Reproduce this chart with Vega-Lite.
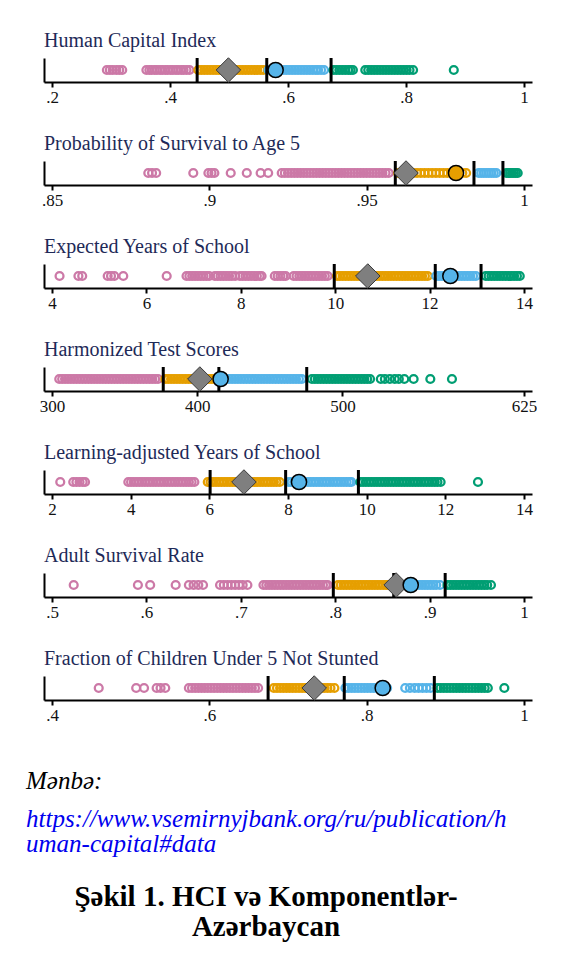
{
"$schema":"https://vega.github.io/schema/vega-lite/v6.json",
"padding":{"left":26,"top":30,"right":0,"bottom":0},
"background":"white",
"datasets":{
"pts":[
{"p":1,"q":1,"v":0.293},{"p":1,"q":1,"v":0.298},{"p":1,"q":1,"v":0.303},{"p":1,"q":1,"v":0.309},{"p":1,"q":1,"v":0.314},{"p":1,"q":1,"v":0.319},{"p":1,"q":1,"v":0.36},{"p":1,"q":1,"v":0.365},{"p":1,"q":1,"v":0.369},{"p":1,"q":1,"v":0.374},{"p":1,"q":1,"v":0.378},{"p":1,"q":1,"v":0.383},{"p":1,"q":1,"v":0.387},{"p":1,"q":1,"v":0.392},{"p":1,"q":1,"v":0.396},{"p":1,"q":1,"v":0.401},{"p":1,"q":1,"v":0.405},{"p":1,"q":1,"v":0.41},{"p":1,"q":1,"v":0.414},{"p":1,"q":1,"v":0.419},{"p":1,"q":1,"v":0.423},{"p":1,"q":1,"v":0.428},{"p":1,"q":1,"v":0.433},
{"p":1,"q":2,"v":0.448},{"p":1,"q":2,"v":0.453},{"p":1,"q":2,"v":0.458},{"p":1,"q":2,"v":0.463},{"p":1,"q":2,"v":0.468},{"p":1,"q":2,"v":0.473},{"p":1,"q":2,"v":0.478},{"p":1,"q":2,"v":0.483},{"p":1,"q":2,"v":0.488},{"p":1,"q":2,"v":0.493},{"p":1,"q":2,"v":0.498},{"p":1,"q":2,"v":0.503},{"p":1,"q":2,"v":0.508},{"p":1,"q":2,"v":0.513},{"p":1,"q":2,"v":0.518},{"p":1,"q":2,"v":0.523},{"p":1,"q":2,"v":0.528},{"p":1,"q":2,"v":0.533},{"p":1,"q":2,"v":0.538},{"p":1,"q":2,"v":0.543},{"p":1,"q":2,"v":0.548},{"p":1,"q":2,"v":0.553},{"p":1,"q":2,"v":0.558},
{"p":1,"q":3,"v":0.567},{"p":1,"q":3,"v":0.572},{"p":1,"q":3,"v":0.577},{"p":1,"q":3,"v":0.582},{"p":1,"q":3,"v":0.587},{"p":1,"q":3,"v":0.592},{"p":1,"q":3,"v":0.597},{"p":1,"q":3,"v":0.602},{"p":1,"q":3,"v":0.607},{"p":1,"q":3,"v":0.612},{"p":1,"q":3,"v":0.617},{"p":1,"q":3,"v":0.622},{"p":1,"q":3,"v":0.627},{"p":1,"q":3,"v":0.632},{"p":1,"q":3,"v":0.637},{"p":1,"q":3,"v":0.642},{"p":1,"q":3,"v":0.647},{"p":1,"q":3,"v":0.651},{"p":1,"q":3,"v":0.656},{"p":1,"q":3,"v":0.661},
{"p":1,"q":4,"v":0.677},{"p":1,"q":4,"v":0.682},{"p":1,"q":4,"v":0.687},{"p":1,"q":4,"v":0.692},{"p":1,"q":4,"v":0.697},{"p":1,"q":4,"v":0.702},{"p":1,"q":4,"v":0.706},{"p":1,"q":4,"v":0.71},{"p":1,"q":4,"v":0.731},{"p":1,"q":4,"v":0.736},{"p":1,"q":4,"v":0.741},{"p":1,"q":4,"v":0.746},{"p":1,"q":4,"v":0.751},{"p":1,"q":4,"v":0.756},{"p":1,"q":4,"v":0.761},{"p":1,"q":4,"v":0.766},{"p":1,"q":4,"v":0.771},{"p":1,"q":4,"v":0.776},{"p":1,"q":4,"v":0.781},{"p":1,"q":4,"v":0.786},{"p":1,"q":4,"v":0.791},{"p":1,"q":4,"v":0.796},{"p":1,"q":4,"v":0.801},{"p":1,"q":4,"v":0.806},{"p":1,"q":4,"v":0.812},{"p":1,"q":4,"v":0.881},

{"p":2,"q":1,"v":0.8806},{"p":2,"q":1,"v":0.8818},{"p":2,"q":1,"v":0.8831},{"p":2,"q":1,"v":0.8949},{"p":2,"q":1,"v":0.8997},{"p":2,"q":1,"v":0.9007},{"p":2,"q":1,"v":0.9016},{"p":2,"q":1,"v":0.9068},{"p":2,"q":1,"v":0.9119},{"p":2,"q":1,"v":0.9163},{"p":2,"q":1,"v":0.9187},{"p":2,"q":1,"v":0.923},{"p":2,"q":1,"v":0.924},{"p":2,"q":1,"v":0.925},{"p":2,"q":1,"v":0.926},{"p":2,"q":1,"v":0.927},{"p":2,"q":1,"v":0.928},{"p":2,"q":1,"v":0.929},{"p":2,"q":1,"v":0.93},{"p":2,"q":1,"v":0.931},{"p":2,"q":1,"v":0.932},{"p":2,"q":1,"v":0.933},{"p":2,"q":1,"v":0.934},{"p":2,"q":1,"v":0.935},{"p":2,"q":1,"v":0.936},{"p":2,"q":1,"v":0.937},{"p":2,"q":1,"v":0.938},{"p":2,"q":1,"v":0.939},{"p":2,"q":1,"v":0.94},{"p":2,"q":1,"v":0.941},{"p":2,"q":1,"v":0.942},{"p":2,"q":1,"v":0.943},{"p":2,"q":1,"v":0.944},{"p":2,"q":1,"v":0.945},{"p":2,"q":1,"v":0.946},{"p":2,"q":1,"v":0.947},{"p":2,"q":1,"v":0.948},{"p":2,"q":1,"v":0.949},{"p":2,"q":1,"v":0.95},{"p":2,"q":1,"v":0.951},{"p":2,"q":1,"v":0.952},{"p":2,"q":1,"v":0.953},{"p":2,"q":1,"v":0.954},{"p":2,"q":1,"v":0.955},{"p":2,"q":1,"v":0.956},{"p":2,"q":1,"v":0.957},
{"p":2,"q":2,"v":0.96},{"p":2,"q":2,"v":0.9612},{"p":2,"q":2,"v":0.9624},{"p":2,"q":2,"v":0.9636},{"p":2,"q":2,"v":0.9648},{"p":2,"q":2,"v":0.966},{"p":2,"q":2,"v":0.9672},{"p":2,"q":2,"v":0.9684},{"p":2,"q":2,"v":0.9696},{"p":2,"q":2,"v":0.9708},{"p":2,"q":2,"v":0.972},{"p":2,"q":2,"v":0.9732},{"p":2,"q":2,"v":0.9744},{"p":2,"q":2,"v":0.9756},{"p":2,"q":2,"v":0.9768},{"p":2,"q":2,"v":0.978},{"p":2,"q":2,"v":0.9792},{"p":2,"q":2,"v":0.9804},{"p":2,"q":2,"v":0.9816},
{"p":2,"q":3,"v":0.9856},{"p":2,"q":3,"v":0.9864},{"p":2,"q":3,"v":0.9872},{"p":2,"q":3,"v":0.988},{"p":2,"q":3,"v":0.9888},{"p":2,"q":3,"v":0.9896},{"p":2,"q":3,"v":0.9904},{"p":2,"q":3,"v":0.9912},
{"p":2,"q":4,"v":0.9944},{"p":2,"q":4,"v":0.995},{"p":2,"q":4,"v":0.9956},{"p":2,"q":4,"v":0.9962},{"p":2,"q":4,"v":0.9968},{"p":2,"q":4,"v":0.9974},{"p":2,"q":4,"v":0.998},

{"p":3,"q":1,"v":4.16},{"p":3,"q":1,"v":4.56},{"p":3,"q":1,"v":4.64},{"p":3,"q":1,"v":5.18},{"p":3,"q":1,"v":5.25},{"p":3,"q":1,"v":5.32},{"p":3,"q":1,"v":5.51},{"p":3,"q":1,"v":6.43},{"p":3,"q":1,"v":6.85},{"p":3,"q":1,"v":6.91},{"p":3,"q":1,"v":6.97},{"p":3,"q":1,"v":7.03},{"p":3,"q":1,"v":7.09},{"p":3,"q":1,"v":7.15},{"p":3,"q":1,"v":7.21},{"p":3,"q":1,"v":7.27},{"p":3,"q":1,"v":7.33},{"p":3,"q":1,"v":7.45},{"p":3,"q":1,"v":7.51},{"p":3,"q":1,"v":7.57},{"p":3,"q":1,"v":7.63},{"p":3,"q":1,"v":7.69},{"p":3,"q":1,"v":7.75},{"p":3,"q":1,"v":7.81},{"p":3,"q":1,"v":7.88},{"p":3,"q":1,"v":7.98},{"p":3,"q":1,"v":8.04},{"p":3,"q":1,"v":8.1},{"p":3,"q":1,"v":8.16},{"p":3,"q":1,"v":8.22},{"p":3,"q":1,"v":8.28},{"p":3,"q":1,"v":8.34},{"p":3,"q":1,"v":8.4},{"p":3,"q":1,"v":8.44},{"p":3,"q":1,"v":8.72},{"p":3,"q":1,"v":8.78},{"p":3,"q":1,"v":8.84},{"p":3,"q":1,"v":8.9},{"p":3,"q":1,"v":8.95},{"p":3,"q":1,"v":9.12},{"p":3,"q":1,"v":9.18},{"p":3,"q":1,"v":9.24},{"p":3,"q":1,"v":9.3},{"p":3,"q":1,"v":9.36},{"p":3,"q":1,"v":9.42},{"p":3,"q":1,"v":9.48},{"p":3,"q":1,"v":9.54},{"p":3,"q":1,"v":9.6},{"p":3,"q":1,"v":9.66},{"p":3,"q":1,"v":9.72},{"p":3,"q":1,"v":9.78},{"p":3,"q":1,"v":9.84},
{"p":3,"q":2,"v":10.04},{"p":3,"q":2,"v":10.1},{"p":3,"q":2,"v":10.16},{"p":3,"q":2,"v":10.22},{"p":3,"q":2,"v":10.28},{"p":3,"q":2,"v":10.34},{"p":3,"q":2,"v":10.4},{"p":3,"q":2,"v":10.46},{"p":3,"q":2,"v":10.52},{"p":3,"q":2,"v":10.58},{"p":3,"q":2,"v":10.64},{"p":3,"q":2,"v":10.7},{"p":3,"q":2,"v":10.76},{"p":3,"q":2,"v":10.82},{"p":3,"q":2,"v":10.88},{"p":3,"q":2,"v":10.94},{"p":3,"q":2,"v":11.0},{"p":3,"q":2,"v":11.06},{"p":3,"q":2,"v":11.12},{"p":3,"q":2,"v":11.18},{"p":3,"q":2,"v":11.24},{"p":3,"q":2,"v":11.3},{"p":3,"q":2,"v":11.36},{"p":3,"q":2,"v":11.42},{"p":3,"q":2,"v":11.48},{"p":3,"q":2,"v":11.54},{"p":3,"q":2,"v":11.6},{"p":3,"q":2,"v":11.66},{"p":3,"q":2,"v":11.72},{"p":3,"q":2,"v":11.78},{"p":3,"q":2,"v":11.84},{"p":3,"q":2,"v":11.9},{"p":3,"q":2,"v":11.96},
{"p":3,"q":3,"v":12.14},{"p":3,"q":3,"v":12.2},{"p":3,"q":3,"v":12.26},{"p":3,"q":3,"v":12.32},{"p":3,"q":3,"v":12.38},{"p":3,"q":3,"v":12.44},{"p":3,"q":3,"v":12.5},{"p":3,"q":3,"v":12.56},{"p":3,"q":3,"v":12.62},{"p":3,"q":3,"v":12.68},{"p":3,"q":3,"v":12.74},{"p":3,"q":3,"v":12.8},{"p":3,"q":3,"v":12.86},{"p":3,"q":3,"v":12.92},{"p":3,"q":3,"v":12.98},
{"p":3,"q":4,"v":13.19},{"p":3,"q":4,"v":13.25},{"p":3,"q":4,"v":13.31},{"p":3,"q":4,"v":13.37},{"p":3,"q":4,"v":13.43},{"p":3,"q":4,"v":13.49},{"p":3,"q":4,"v":13.55},{"p":3,"q":4,"v":13.61},{"p":3,"q":4,"v":13.67},{"p":3,"q":4,"v":13.73},{"p":3,"q":4,"v":13.79},{"p":3,"q":4,"v":13.85},{"p":3,"q":4,"v":13.91},

{"p":4,"q":1,"v":305},{"p":4,"q":1,"v":307},{"p":4,"q":1,"v":309},{"p":4,"q":1,"v":311},{"p":4,"q":1,"v":313},{"p":4,"q":1,"v":315},{"p":4,"q":1,"v":317},{"p":4,"q":1,"v":319},{"p":4,"q":1,"v":321},{"p":4,"q":1,"v":323},{"p":4,"q":1,"v":325},{"p":4,"q":1,"v":327},{"p":4,"q":1,"v":329},{"p":4,"q":1,"v":331},{"p":4,"q":1,"v":333},{"p":4,"q":1,"v":335},{"p":4,"q":1,"v":337},{"p":4,"q":1,"v":339},{"p":4,"q":1,"v":341},{"p":4,"q":1,"v":343},{"p":4,"q":1,"v":345},{"p":4,"q":1,"v":347},{"p":4,"q":1,"v":349},{"p":4,"q":1,"v":351},{"p":4,"q":1,"v":353},{"p":4,"q":1,"v":355},{"p":4,"q":1,"v":357},{"p":4,"q":1,"v":359},{"p":4,"q":1,"v":361},{"p":4,"q":1,"v":363},{"p":4,"q":1,"v":365},{"p":4,"q":1,"v":367},{"p":4,"q":1,"v":369},{"p":4,"q":1,"v":371},{"p":4,"q":1,"v":373},
{"p":4,"q":2,"v":378},{"p":4,"q":2,"v":380},{"p":4,"q":2,"v":382},{"p":4,"q":2,"v":384},{"p":4,"q":2,"v":386},{"p":4,"q":2,"v":388},{"p":4,"q":2,"v":390},{"p":4,"q":2,"v":392},{"p":4,"q":2,"v":394},{"p":4,"q":2,"v":396},{"p":4,"q":2,"v":398},{"p":4,"q":2,"v":400},{"p":4,"q":2,"v":402},{"p":4,"q":2,"v":404},{"p":4,"q":2,"v":406},{"p":4,"q":2,"v":408},{"p":4,"q":2,"v":410},{"p":4,"q":2,"v":412},
{"p":4,"q":3,"v":420},{"p":4,"q":3,"v":422},{"p":4,"q":3,"v":424},{"p":4,"q":3,"v":426},{"p":4,"q":3,"v":428},{"p":4,"q":3,"v":430},{"p":4,"q":3,"v":432},{"p":4,"q":3,"v":434},{"p":4,"q":3,"v":436},{"p":4,"q":3,"v":438},{"p":4,"q":3,"v":440},{"p":4,"q":3,"v":442},{"p":4,"q":3,"v":444},{"p":4,"q":3,"v":446},{"p":4,"q":3,"v":448},{"p":4,"q":3,"v":450},{"p":4,"q":3,"v":452},{"p":4,"q":3,"v":454},{"p":4,"q":3,"v":456},{"p":4,"q":3,"v":458},{"p":4,"q":3,"v":460},{"p":4,"q":3,"v":462},{"p":4,"q":3,"v":464},{"p":4,"q":3,"v":466},{"p":4,"q":3,"v":468},{"p":4,"q":3,"v":470},{"p":4,"q":3,"v":472},
{"p":4,"q":4,"v":479},{"p":4,"q":4,"v":481},{"p":4,"q":4,"v":483},{"p":4,"q":4,"v":485},{"p":4,"q":4,"v":487},{"p":4,"q":4,"v":489},{"p":4,"q":4,"v":491},{"p":4,"q":4,"v":493},{"p":4,"q":4,"v":495},{"p":4,"q":4,"v":497},{"p":4,"q":4,"v":499},{"p":4,"q":4,"v":501},{"p":4,"q":4,"v":503},{"p":4,"q":4,"v":505},{"p":4,"q":4,"v":507},{"p":4,"q":4,"v":509},{"p":4,"q":4,"v":511},{"p":4,"q":4,"v":513},{"p":4,"q":4,"v":515},{"p":4,"q":4,"v":517},{"p":4,"q":4,"v":519},{"p":4,"q":4,"v":526.4},{"p":4,"q":4,"v":529.2},{"p":4,"q":4,"v":532.6},{"p":4,"q":4,"v":536},{"p":4,"q":4,"v":538.8},{"p":4,"q":4,"v":542.6},{"p":4,"q":4,"v":549},{"p":4,"q":4,"v":560.5},{"p":4,"q":4,"v":575.4},

{"p":5,"q":1,"v":2.21},{"p":5,"q":1,"v":2.54},{"p":5,"q":1,"v":2.62},{"p":5,"q":1,"v":2.7},{"p":5,"q":1,"v":2.78},{"p":5,"q":1,"v":2.84},{"p":5,"q":1,"v":3.94},{"p":5,"q":1,"v":4.01},{"p":5,"q":1,"v":4.08},{"p":5,"q":1,"v":4.15},{"p":5,"q":1,"v":4.22},{"p":5,"q":1,"v":4.29},{"p":5,"q":1,"v":4.36},{"p":5,"q":1,"v":4.43},{"p":5,"q":1,"v":4.5},{"p":5,"q":1,"v":4.57},{"p":5,"q":1,"v":4.64},{"p":5,"q":1,"v":4.71},{"p":5,"q":1,"v":4.78},{"p":5,"q":1,"v":4.85},{"p":5,"q":1,"v":4.92},{"p":5,"q":1,"v":4.99},{"p":5,"q":1,"v":5.06},{"p":5,"q":1,"v":5.13},{"p":5,"q":1,"v":5.2},{"p":5,"q":1,"v":5.27},{"p":5,"q":1,"v":5.34},{"p":5,"q":1,"v":5.41},{"p":5,"q":1,"v":5.48},{"p":5,"q":1,"v":5.55},{"p":5,"q":1,"v":5.62},
{"p":5,"q":2,"v":5.96},{"p":5,"q":2,"v":6.03},{"p":5,"q":2,"v":6.1},{"p":5,"q":2,"v":6.17},{"p":5,"q":2,"v":6.24},{"p":5,"q":2,"v":6.31},{"p":5,"q":2,"v":6.38},{"p":5,"q":2,"v":6.45},{"p":5,"q":2,"v":6.52},{"p":5,"q":2,"v":6.59},{"p":5,"q":2,"v":6.66},{"p":5,"q":2,"v":6.73},{"p":5,"q":2,"v":6.8},{"p":5,"q":2,"v":6.87},{"p":5,"q":2,"v":6.94},{"p":5,"q":2,"v":7.01},{"p":5,"q":2,"v":7.08},{"p":5,"q":2,"v":7.15},{"p":5,"q":2,"v":7.22},{"p":5,"q":2,"v":7.29},{"p":5,"q":2,"v":7.36},{"p":5,"q":2,"v":7.43},{"p":5,"q":2,"v":7.5},{"p":5,"q":2,"v":7.57},{"p":5,"q":2,"v":7.64},{"p":5,"q":2,"v":7.71},{"p":5,"q":2,"v":7.79},
{"p":5,"q":3,"v":8.02},{"p":5,"q":3,"v":8.09},{"p":5,"q":3,"v":8.16},{"p":5,"q":3,"v":8.23},{"p":5,"q":3,"v":8.3},{"p":5,"q":3,"v":8.37},{"p":5,"q":3,"v":8.44},{"p":5,"q":3,"v":8.51},{"p":5,"q":3,"v":8.58},{"p":5,"q":3,"v":8.65},{"p":5,"q":3,"v":8.72},{"p":5,"q":3,"v":8.79},{"p":5,"q":3,"v":8.86},{"p":5,"q":3,"v":8.93},{"p":5,"q":3,"v":9.0},{"p":5,"q":3,"v":9.07},{"p":5,"q":3,"v":9.14},{"p":5,"q":3,"v":9.21},{"p":5,"q":3,"v":9.28},{"p":5,"q":3,"v":9.35},{"p":5,"q":3,"v":9.42},{"p":5,"q":3,"v":9.49},{"p":5,"q":3,"v":9.56},{"p":5,"q":3,"v":9.61},
{"p":5,"q":4,"v":9.84},{"p":5,"q":4,"v":9.91},{"p":5,"q":4,"v":9.98},{"p":5,"q":4,"v":10.05},{"p":5,"q":4,"v":10.12},{"p":5,"q":4,"v":10.19},{"p":5,"q":4,"v":10.26},{"p":5,"q":4,"v":10.33},{"p":5,"q":4,"v":10.4},{"p":5,"q":4,"v":10.47},{"p":5,"q":4,"v":10.54},{"p":5,"q":4,"v":10.61},{"p":5,"q":4,"v":10.68},{"p":5,"q":4,"v":10.75},{"p":5,"q":4,"v":10.82},{"p":5,"q":4,"v":10.89},{"p":5,"q":4,"v":10.96},{"p":5,"q":4,"v":11.03},{"p":5,"q":4,"v":11.1},{"p":5,"q":4,"v":11.17},{"p":5,"q":4,"v":11.24},{"p":5,"q":4,"v":11.31},{"p":5,"q":4,"v":11.38},{"p":5,"q":4,"v":11.45},{"p":5,"q":4,"v":11.52},{"p":5,"q":4,"v":11.59},{"p":5,"q":4,"v":11.66},{"p":5,"q":4,"v":11.73},{"p":5,"q":4,"v":11.8},{"p":5,"q":4,"v":11.88},{"p":5,"q":4,"v":12.83},

{"p":6,"q":1,"v":0.523},{"p":6,"q":1,"v":0.591},{"p":6,"q":1,"v":0.604},{"p":6,"q":1,"v":0.631},{"p":6,"q":1,"v":0.645},{"p":6,"q":1,"v":0.65},{"p":6,"q":1,"v":0.655},{"p":6,"q":1,"v":0.66},{"p":6,"q":1,"v":0.678},{"p":6,"q":1,"v":0.682},{"p":6,"q":1,"v":0.686},{"p":6,"q":1,"v":0.69},{"p":6,"q":1,"v":0.694},{"p":6,"q":1,"v":0.698},{"p":6,"q":1,"v":0.702},{"p":6,"q":1,"v":0.707},{"p":6,"q":1,"v":0.724},{"p":6,"q":1,"v":0.727},{"p":6,"q":1,"v":0.73},{"p":6,"q":1,"v":0.733},{"p":6,"q":1,"v":0.736},{"p":6,"q":1,"v":0.739},{"p":6,"q":1,"v":0.742},{"p":6,"q":1,"v":0.745},{"p":6,"q":1,"v":0.748},{"p":6,"q":1,"v":0.751},{"p":6,"q":1,"v":0.754},{"p":6,"q":1,"v":0.757},{"p":6,"q":1,"v":0.76},{"p":6,"q":1,"v":0.763},{"p":6,"q":1,"v":0.766},{"p":6,"q":1,"v":0.769},{"p":6,"q":1,"v":0.772},{"p":6,"q":1,"v":0.775},{"p":6,"q":1,"v":0.778},{"p":6,"q":1,"v":0.781},{"p":6,"q":1,"v":0.784},{"p":6,"q":1,"v":0.787},{"p":6,"q":1,"v":0.79},{"p":6,"q":1,"v":0.792},
{"p":6,"q":2,"v":0.803},{"p":6,"q":2,"v":0.806},{"p":6,"q":2,"v":0.809},{"p":6,"q":2,"v":0.812},{"p":6,"q":2,"v":0.815},{"p":6,"q":2,"v":0.818},{"p":6,"q":2,"v":0.821},{"p":6,"q":2,"v":0.824},{"p":6,"q":2,"v":0.827},{"p":6,"q":2,"v":0.83},{"p":6,"q":2,"v":0.833},{"p":6,"q":2,"v":0.836},{"p":6,"q":2,"v":0.839},{"p":6,"q":2,"v":0.842},{"p":6,"q":2,"v":0.845},{"p":6,"q":2,"v":0.848},{"p":6,"q":2,"v":0.851},{"p":6,"q":2,"v":0.854},{"p":6,"q":2,"v":0.857},
{"p":6,"q":3,"v":0.862},{"p":6,"q":3,"v":0.865},{"p":6,"q":3,"v":0.868},{"p":6,"q":3,"v":0.871},{"p":6,"q":3,"v":0.874},{"p":6,"q":3,"v":0.877},{"p":6,"q":3,"v":0.88},{"p":6,"q":3,"v":0.883},{"p":6,"q":3,"v":0.886},{"p":6,"q":3,"v":0.889},{"p":6,"q":3,"v":0.892},{"p":6,"q":3,"v":0.895},{"p":6,"q":3,"v":0.898},{"p":6,"q":3,"v":0.901},{"p":6,"q":3,"v":0.904},{"p":6,"q":3,"v":0.907},{"p":6,"q":3,"v":0.911},
{"p":6,"q":4,"v":0.919},{"p":6,"q":4,"v":0.922},{"p":6,"q":4,"v":0.925},{"p":6,"q":4,"v":0.928},{"p":6,"q":4,"v":0.931},{"p":6,"q":4,"v":0.934},{"p":6,"q":4,"v":0.937},{"p":6,"q":4,"v":0.94},{"p":6,"q":4,"v":0.943},{"p":6,"q":4,"v":0.946},{"p":6,"q":4,"v":0.949},{"p":6,"q":4,"v":0.952},{"p":6,"q":4,"v":0.955},{"p":6,"q":4,"v":0.958},{"p":6,"q":4,"v":0.961},{"p":6,"q":4,"v":0.965},

{"p":7,"q":1,"v":0.4594},{"p":7,"q":1,"v":0.507},{"p":7,"q":1,"v":0.517},{"p":7,"q":1,"v":0.533},{"p":7,"q":1,"v":0.538},{"p":7,"q":1,"v":0.544},{"p":7,"q":1,"v":0.574},{"p":7,"q":1,"v":0.578},{"p":7,"q":1,"v":0.582},{"p":7,"q":1,"v":0.586},{"p":7,"q":1,"v":0.59},{"p":7,"q":1,"v":0.594},{"p":7,"q":1,"v":0.598},{"p":7,"q":1,"v":0.602},{"p":7,"q":1,"v":0.606},{"p":7,"q":1,"v":0.61},{"p":7,"q":1,"v":0.614},{"p":7,"q":1,"v":0.618},{"p":7,"q":1,"v":0.622},{"p":7,"q":1,"v":0.626},{"p":7,"q":1,"v":0.63},{"p":7,"q":1,"v":0.634},{"p":7,"q":1,"v":0.638},{"p":7,"q":1,"v":0.642},{"p":7,"q":1,"v":0.646},{"p":7,"q":1,"v":0.65},{"p":7,"q":1,"v":0.654},{"p":7,"q":1,"v":0.658},{"p":7,"q":1,"v":0.662},
{"p":7,"q":2,"v":0.682},{"p":7,"q":2,"v":0.686},{"p":7,"q":2,"v":0.69},{"p":7,"q":2,"v":0.694},{"p":7,"q":2,"v":0.698},{"p":7,"q":2,"v":0.702},{"p":7,"q":2,"v":0.706},{"p":7,"q":2,"v":0.71},{"p":7,"q":2,"v":0.714},{"p":7,"q":2,"v":0.718},{"p":7,"q":2,"v":0.722},{"p":7,"q":2,"v":0.726},{"p":7,"q":2,"v":0.73},{"p":7,"q":2,"v":0.734},{"p":7,"q":2,"v":0.738},{"p":7,"q":2,"v":0.742},{"p":7,"q":2,"v":0.746},{"p":7,"q":2,"v":0.75},{"p":7,"q":2,"v":0.754},{"p":7,"q":2,"v":0.759},
{"p":7,"q":3,"v":0.773},{"p":7,"q":3,"v":0.777},{"p":7,"q":3,"v":0.781},{"p":7,"q":3,"v":0.785},{"p":7,"q":3,"v":0.789},{"p":7,"q":3,"v":0.793},{"p":7,"q":3,"v":0.797},{"p":7,"q":3,"v":0.801},{"p":7,"q":3,"v":0.805},{"p":7,"q":3,"v":0.809},{"p":7,"q":3,"v":0.813},{"p":7,"q":3,"v":0.817},{"p":7,"q":3,"v":0.821},{"p":7,"q":3,"v":0.826},{"p":7,"q":3,"v":0.849},{"p":7,"q":3,"v":0.855},{"p":7,"q":3,"v":0.861},{"p":7,"q":3,"v":0.866},{"p":7,"q":3,"v":0.871},{"p":7,"q":3,"v":0.876},{"p":7,"q":3,"v":0.881},
{"p":7,"q":4,"v":0.89},{"p":7,"q":4,"v":0.894},{"p":7,"q":4,"v":0.898},{"p":7,"q":4,"v":0.902},{"p":7,"q":4,"v":0.906},{"p":7,"q":4,"v":0.91},{"p":7,"q":4,"v":0.914},{"p":7,"q":4,"v":0.918},{"p":7,"q":4,"v":0.922},{"p":7,"q":4,"v":0.926},{"p":7,"q":4,"v":0.93},{"p":7,"q":4,"v":0.934},{"p":7,"q":4,"v":0.938},{"p":7,"q":4,"v":0.942},{"p":7,"q":4,"v":0.946},{"p":7,"q":4,"v":0.95},{"p":7,"q":4,"v":0.954},{"p":7,"q":4,"v":0.975}
],
"thr":[
{"p":1,"v":0.446},{"p":1,"v":0.564},{"p":1,"v":0.673},
{"p":2,"v":0.9591},{"p":2,"v":0.9841},{"p":2,"v":0.9933},
{"p":3,"v":9.98},{"p":3,"v":12.12},{"p":3,"v":13.09},
{"p":4,"v":376.6},{"p":4,"v":414.9},{"p":4,"v":475.4},
{"p":5,"v":6.02},{"p":5,"v":7.94},{"p":5,"v":9.79},
{"p":6,"v":0.798},{"p":6,"v":0.862},{"p":6,"v":0.9165},
{"p":7,"v":0.6747},{"p":7,"v":0.7715},{"p":7,"v":0.886}
],
"reg":[
{"p":1,"v":0.499},{"p":2,"v":0.9625},{"p":3,"v":10.69},{"p":4,"v":401.8},{"p":5,"v":6.88},{"p":6,"v":0.8645},{"p":7,"v":0.7333}
],
"az":[
{"p":1,"q":3,"v":0.579},{"p":2,"q":2,"v":0.9784},{"p":3,"q":3,"v":12.44},{"p":4,"q":3,"v":416.1},{"p":5,"q":3,"v":8.28},{"p":6,"q":3,"v":0.88},{"p":7,"q":3,"v":0.8204}
],
"cap":[
{"line":1,"text":"Şəkil 1. HCI və Komponentlər-"},{"line":2,"text":"Azərbaycan"}
]
},
"vconcat":[
{"spacing":28,"vconcat":[
{"title":"Human Capital Index","width":488,"height":24,
 "encoding":{"x":{"field":"v","type":"quantitative","scale":{"domain":[0.2,1],"padding":8,"nice":false,"zero":false},"axis":{"values":[0.2,0.4,0.6,0.8,1],"labelExpr":"replace(format(datum.value,'~g'),'0.','.')"}}},
 "layer":[
  {"data":{"name":"pts"},"transform":[{"filter":"datum.p==1"}],"mark":{"type":"point","shape":"circle","filled":false,"size":62,"strokeWidth":2.3,"opacity":1},"encoding":{"y":{"datum":0,"type":"quantitative","scale":{"domain":[-1,1]},"axis":{"labels":false,"ticks":false,"title":null,"grid":false,"domain":true,"domainColor":"black","domainWidth":2}},"color":{"field":"q","type":"nominal","scale":{"domain":[1,2,3,4],"range":["#CC79A7","#E69F00","#56B4E9","#009E73"]},"legend":null}}},
  {"data":{"name":"thr"},"transform":[{"filter":"datum.p==1"}],"mark":{"type":"rule","strokeWidth":3,"color":"black"},"encoding":{}},
  {"data":{"name":"reg"},"transform":[{"filter":"datum.p==1"}],"mark":{"type":"point","shape":"diamond","filled":true,"size":600,"fill":"#7f7f7f","stroke":"#3a3a3a","strokeWidth":1,"opacity":1}},
  {"data":{"name":"az"},"transform":[{"filter":"datum.p==1"}],"mark":{"type":"circle","size":230,"stroke":"black","strokeWidth":1.5,"opacity":1},"encoding":{"color":{"field":"q","type":"nominal","legend":null}}}
 ]},
{"title":"Probability of Survival to Age 5","width":488,"height":24,
 "encoding":{"x":{"field":"v","type":"quantitative","scale":{"domain":[0.85,1],"padding":8,"nice":false,"zero":false},"axis":{"values":[0.85,0.9,0.95,1],"labelExpr":"replace(format(datum.value,'~g'),'0.','.')"}}},
 "layer":[
  {"data":{"name":"pts"},"transform":[{"filter":"datum.p==2"}],"mark":{"type":"point","shape":"circle","filled":false,"size":62,"strokeWidth":2.3,"opacity":1},"encoding":{"y":{"datum":0,"type":"quantitative","scale":{"domain":[-1,1]},"axis":{"labels":false,"ticks":false,"title":null,"grid":false,"domain":true,"domainColor":"black","domainWidth":2}},"color":{"field":"q","type":"nominal","legend":null}}},
  {"data":{"name":"thr"},"transform":[{"filter":"datum.p==2"}],"mark":{"type":"rule","strokeWidth":3,"color":"black"},"encoding":{}},
  {"data":{"name":"reg"},"transform":[{"filter":"datum.p==2"}],"mark":{"type":"point","shape":"diamond","filled":true,"size":600,"fill":"#7f7f7f","stroke":"#3a3a3a","strokeWidth":1,"opacity":1}},
  {"data":{"name":"az"},"transform":[{"filter":"datum.p==2"}],"mark":{"type":"circle","size":230,"stroke":"black","strokeWidth":1.5,"opacity":1},"encoding":{"color":{"field":"q","type":"nominal","legend":null}}}
 ]},
{"title":"Expected Years of School","width":488,"height":24,
 "encoding":{"x":{"field":"v","type":"quantitative","scale":{"domain":[4,14],"padding":8,"nice":false,"zero":false},"axis":{"values":[4,6,8,10,12,14],"labelExpr":"replace(format(datum.value,'~g'),'0.','.')"}}},
 "layer":[
  {"data":{"name":"pts"},"transform":[{"filter":"datum.p==3"}],"mark":{"type":"point","shape":"circle","filled":false,"size":62,"strokeWidth":2.3,"opacity":1},"encoding":{"y":{"datum":0,"type":"quantitative","scale":{"domain":[-1,1]},"axis":{"labels":false,"ticks":false,"title":null,"grid":false,"domain":true,"domainColor":"black","domainWidth":2}},"color":{"field":"q","type":"nominal","legend":null}}},
  {"data":{"name":"thr"},"transform":[{"filter":"datum.p==3"}],"mark":{"type":"rule","strokeWidth":3,"color":"black"},"encoding":{}},
  {"data":{"name":"reg"},"transform":[{"filter":"datum.p==3"}],"mark":{"type":"point","shape":"diamond","filled":true,"size":600,"fill":"#7f7f7f","stroke":"#3a3a3a","strokeWidth":1,"opacity":1}},
  {"data":{"name":"az"},"transform":[{"filter":"datum.p==3"}],"mark":{"type":"circle","size":230,"stroke":"black","strokeWidth":1.5,"opacity":1},"encoding":{"color":{"field":"q","type":"nominal","legend":null}}}
 ]},
{"title":"Harmonized Test Scores","width":488,"height":24,
 "encoding":{"x":{"field":"v","type":"quantitative","scale":{"domain":[300,625],"padding":8,"nice":false,"zero":false},"axis":{"values":[300,400,500,625],"labelExpr":"replace(format(datum.value,'~g'),'0.','.')"}}},
 "layer":[
  {"data":{"name":"pts"},"transform":[{"filter":"datum.p==4"}],"mark":{"type":"point","shape":"circle","filled":false,"size":62,"strokeWidth":2.3,"opacity":1},"encoding":{"y":{"datum":0,"type":"quantitative","scale":{"domain":[-1,1]},"axis":{"labels":false,"ticks":false,"title":null,"grid":false,"domain":true,"domainColor":"black","domainWidth":2}},"color":{"field":"q","type":"nominal","legend":null}}},
  {"data":{"name":"thr"},"transform":[{"filter":"datum.p==4"}],"mark":{"type":"rule","strokeWidth":3,"color":"black"},"encoding":{}},
  {"data":{"name":"reg"},"transform":[{"filter":"datum.p==4"}],"mark":{"type":"point","shape":"diamond","filled":true,"size":600,"fill":"#7f7f7f","stroke":"#3a3a3a","strokeWidth":1,"opacity":1}},
  {"data":{"name":"az"},"transform":[{"filter":"datum.p==4"}],"mark":{"type":"circle","size":230,"stroke":"black","strokeWidth":1.5,"opacity":1},"encoding":{"color":{"field":"q","type":"nominal","legend":null}}}
 ]},
{"title":"Learning-adjusted Years of School","width":488,"height":24,
 "encoding":{"x":{"field":"v","type":"quantitative","scale":{"domain":[2,14],"padding":8,"nice":false,"zero":false},"axis":{"values":[2,4,6,8,10,12,14],"labelExpr":"replace(format(datum.value,'~g'),'0.','.')"}}},
 "layer":[
  {"data":{"name":"pts"},"transform":[{"filter":"datum.p==5"}],"mark":{"type":"point","shape":"circle","filled":false,"size":62,"strokeWidth":2.3,"opacity":1},"encoding":{"y":{"datum":0,"type":"quantitative","scale":{"domain":[-1,1]},"axis":{"labels":false,"ticks":false,"title":null,"grid":false,"domain":true,"domainColor":"black","domainWidth":2}},"color":{"field":"q","type":"nominal","legend":null}}},
  {"data":{"name":"thr"},"transform":[{"filter":"datum.p==5"}],"mark":{"type":"rule","strokeWidth":3,"color":"black"},"encoding":{}},
  {"data":{"name":"reg"},"transform":[{"filter":"datum.p==5"}],"mark":{"type":"point","shape":"diamond","filled":true,"size":600,"fill":"#7f7f7f","stroke":"#3a3a3a","strokeWidth":1,"opacity":1}},
  {"data":{"name":"az"},"transform":[{"filter":"datum.p==5"}],"mark":{"type":"circle","size":230,"stroke":"black","strokeWidth":1.5,"opacity":1},"encoding":{"color":{"field":"q","type":"nominal","legend":null}}}
 ]},
{"title":"Adult Survival Rate","width":488,"height":24,
 "encoding":{"x":{"field":"v","type":"quantitative","scale":{"domain":[0.5,1],"padding":8,"nice":false,"zero":false},"axis":{"values":[0.5,0.6,0.7,0.8,0.9,1],"labelExpr":"replace(format(datum.value,'~g'),'0.','.')"}}},
 "layer":[
  {"data":{"name":"pts"},"transform":[{"filter":"datum.p==6"}],"mark":{"type":"point","shape":"circle","filled":false,"size":62,"strokeWidth":2.3,"opacity":1},"encoding":{"y":{"datum":0,"type":"quantitative","scale":{"domain":[-1,1]},"axis":{"labels":false,"ticks":false,"title":null,"grid":false,"domain":true,"domainColor":"black","domainWidth":2}},"color":{"field":"q","type":"nominal","legend":null}}},
  {"data":{"name":"thr"},"transform":[{"filter":"datum.p==6"}],"mark":{"type":"rule","strokeWidth":3,"color":"black"},"encoding":{}},
  {"data":{"name":"reg"},"transform":[{"filter":"datum.p==6"}],"mark":{"type":"point","shape":"diamond","filled":true,"size":600,"fill":"#7f7f7f","stroke":"#3a3a3a","strokeWidth":1,"opacity":1}},
  {"data":{"name":"az"},"transform":[{"filter":"datum.p==6"}],"mark":{"type":"circle","size":230,"stroke":"black","strokeWidth":1.5,"opacity":1},"encoding":{"color":{"field":"q","type":"nominal","legend":null}}}
 ]},
{"title":"Fraction of Children Under 5 Not Stunted","width":488,"height":24,
 "encoding":{"x":{"field":"v","type":"quantitative","scale":{"domain":[0.4,1],"padding":8,"nice":false,"zero":false},"axis":{"values":[0.4,0.6,0.8,1],"labelExpr":"replace(format(datum.value,'~g'),'0.','.')"}}},
 "layer":[
  {"data":{"name":"pts"},"transform":[{"filter":"datum.p==7"}],"mark":{"type":"point","shape":"circle","filled":false,"size":62,"strokeWidth":2.3,"opacity":1},"encoding":{"y":{"datum":0,"type":"quantitative","scale":{"domain":[-1,1]},"axis":{"labels":false,"ticks":false,"title":null,"grid":false,"domain":true,"domainColor":"black","domainWidth":2}},"color":{"field":"q","type":"nominal","legend":null}}},
  {"data":{"name":"thr"},"transform":[{"filter":"datum.p==7"}],"mark":{"type":"rule","strokeWidth":3,"color":"black"},"encoding":{}},
  {"data":{"name":"reg"},"transform":[{"filter":"datum.p==7"}],"mark":{"type":"point","shape":"diamond","filled":true,"size":600,"fill":"#7f7f7f","stroke":"#3a3a3a","strokeWidth":1,"opacity":1}},
  {"data":{"name":"az"},"transform":[{"filter":"datum.p==7"}],"mark":{"type":"circle","size":230,"stroke":"black","strokeWidth":1.5,"opacity":1},"encoding":{"color":{"field":"q","type":"nominal","legend":null}}}
 ]}
]},
{"width":444,"height":60,
 "title":{"text":"Mənbə:","subtitle":["https://www.vsemirnyjbank.org/ru/publication/h","uman-capital#data"],"anchor":"start","frame":"group","dx":-18,"font":"Liberation Serif","fontStyle":"italic","fontWeight":"normal","fontSize":25,"color":"black","subtitleFont":"Liberation Serif","subtitleFontStyle":"italic","subtitleFontSize":25,"subtitleColor":"#0000ee","subtitleLineHeight":25,"subtitlePadding":13,"offset":26},
 "data":{"name":"cap"},
 "mark":{"type":"text","font":"Liberation Serif","fontWeight":"bold","fontSize":29,"baseline":"alphabetic","align":"center","color":"black"},
 "encoding":{"y":{"field":"line","type":"ordinal","axis":null,"scale":{"padding":0.5}},"text":{"field":"text"}}}
],
"spacing":46,
"resolve":{"scale":{"x":"independent"}},
"config":{
 "view":{"stroke":null},
 "font":"Liberation Serif",
 "title":{"anchor":"start","frame":"group","font":"Liberation Serif","fontSize":20,"fontWeight":"normal","color":"#1e2a58","offset":5},
 "axisX":{"domainColor":"black","domainWidth":2,"tickColor":"black","tickWidth":2,"tickSize":5,"labelFont":"Liberation Serif","labelFontSize":17,"labelColor":"#111111","labelPadding":2,"grid":false,"title":null,"labelFlush":false,"labelOverlap":false}
}
}
